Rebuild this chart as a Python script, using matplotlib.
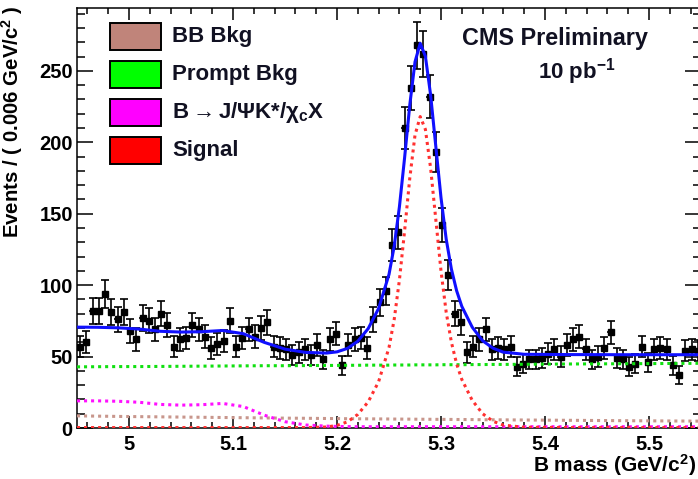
import numpy as np
import matplotlib
matplotlib.use('Agg')
import matplotlib.pyplot as plt
from matplotlib.patches import Rectangle
from matplotlib.ticker import MultipleLocator, FuncFormatter

plt.rcParams['font.family'] = ['Liberation Sans', 'DejaVu Sans']
plt.rcParams['font.weight'] = 'bold'
plt.rcParams['mathtext.fontset'] = 'custom'
plt.rcParams['mathtext.rm'] = 'Liberation Sans:bold'
plt.rcParams['mathtext.bf'] = 'Liberation Sans:bold'
plt.rcParams['mathtext.it'] = 'Liberation Sans:bold:italic'

# ---------------- data ----------------
x_min, x_max, n_bins = 4.95, 5.55, 100

counts = [57, 60, 82, 82, 94, 81, 76, 81, 68, 62,
          77, 75, 69, 80, 72, 57, 62, 63, 72, 69,
          64, 56, 59, 61, 75, 57, 63, 69, 64, 70,
          74, 57, 56, 55, 51, 53, 55, 51, 58, 48,
          62, 66, 44, 58, 62, 63, 56, 76, 88, 96,
          128, 137, 210, 238, 268, 262, 232, 193, 142, 107,
          80, 74, 53, 57, 62, 69, 55, 56, 55, 57,
          43, 45, 48, 48, 49, 52, 55, 50, 58, 62,
          64, 55, 48, 50, 56, 67, 49, 48, 43, 45,
          57, 46, 55, 56, 55, 44, 37, 54, 55, 54]

fit_x = [4.95, 4.97, 4.99, 5.01, 5.03, 5.05, 5.07, 5.09, 5.11, 5.13,
         5.15, 5.17, 5.19, 5.20, 5.21, 5.22, 5.23, 5.24, 5.25, 5.255,
         5.26, 5.265, 5.27, 5.275, 5.28, 5.285, 5.29, 5.295, 5.30, 5.305,
         5.31, 5.315, 5.32, 5.33, 5.34, 5.35, 5.36, 5.38, 5.42, 5.48, 5.55]

prompt_bkg = [42.8, 42.9, 43.0, 43.0, 43.1, 43.2, 43.3, 43.4, 43.5, 43.6,
              43.6, 43.7, 43.8, 43.8, 43.9, 43.9, 44.0, 44.0, 44.0, 44.1,
              44.1, 44.1, 44.1, 44.2, 44.2, 44.2, 44.2, 44.2, 44.3, 44.3,
              44.3, 44.3, 44.3, 44.4, 44.4, 44.5, 44.5, 44.6, 44.8, 45.0, 45.3]

bb_bkg = [8.5, 8.3, 8.1, 7.95, 7.8, 7.65, 7.5, 7.35, 7.2, 7.05,
          6.9, 6.8, 6.65, 6.6, 6.5, 6.45, 6.4, 6.35, 6.3, 6.25,
          6.25, 6.2, 6.2, 6.15, 6.15, 6.1, 6.1, 6.05, 6.05, 6.0,
          6.0, 5.95, 5.95, 5.9, 5.8, 5.75, 5.7, 5.6, 5.4, 5.1, 4.8]

b_jpsi_x = [19.0, 19.0, 18.7, 18.0, 16.5, 16.0, 16.3, 17.2, 15.0, 9.0,
            4.4, 2.1, 1.3, 1.1, 1.0, 0.9, 0.9, 0.9, 0.9, 0.9,
            0.9, 0.9, 0.9, 0.9, 0.9, 0.9, 0.9, 0.9, 0.9, 0.9,
            0.9, 0.9, 0.9, 0.9, 0.9, 0.9, 0.9, 0.9, 0.9, 0.9, 0.9]

signal = [0.3, 0.3, 0.3, 0.3, 0.3, 0.3, 0.3, 0.3, 0.3, 0.3,
          0.3, 0.3, 0.7, 1.8, 4.3, 9.5, 18.3, 32.4, 56.3, 76.0,
          103.5, 138.0, 175.0, 205.0, 218.0, 209.0, 182.0, 146.0, 110.0, 81.0,
          60.0, 45.0, 34.0, 19.4, 10.0, 4.7, 2.0, 0.5, 0.3, 0.3, 0.3]

legend_labels = ['BB Bkg', 'Prompt Bkg',
                 'B$\\rightarrow$J/ΨK*/χ$_{\\mathregular{c}}$X', 'Signal']
legend_colors = ['#c0847a', '#00ff00', '#ff00ff', '#ff0000']

# ---------------- figure ----------------
W, H = 698, 479
fig = plt.figure(figsize=(W / 100, H / 100), dpi=100)
ax = fig.add_axes([77 / W, 1 - 428 / H, 624 / W, 420 / H])

def fx(px):
    return px / W

def fy(py):
    return 1 - py / H

edges = np.linspace(x_min, x_max, n_bins + 1)
centers = 0.5 * (edges[:-1] + edges[1:])
cnt = np.array(counts, dtype=float)
half_w = (x_max - x_min) / n_bins / 2

ax.errorbar(centers, cnt, xerr=half_w, fmt='none', ecolor='black',
            elinewidth=1.2, capsize=0, zorder=3)
ax.errorbar(centers, cnt, yerr=np.sqrt(cnt), fmt='s', color='black',
            ms=4.0, elinewidth=1.2, capsize=2.6, capthick=1.2, zorder=3)

fx_arr = np.array(fit_x)
pr = np.array(prompt_bkg)
bb = np.array(bb_bkg)
bj = np.array(b_jpsi_x)
sg = np.array(signal)
total = pr + bb + bj + sg

dot = (0, (1.0, 1.3))
ax.plot(fx_arr, pr, color='#10e010', lw=2.2, ls=dot, zorder=4)
ax.plot(fx_arr, bb, color='#c8968c', lw=2.2, ls=dot, zorder=4)
ax.plot(fx_arr, bj, color='#ff10ff', lw=2.2, ls=dot, zorder=4)
ax.plot(fx_arr, sg, color='#ff3030', lw=2.2, ls=dot, zorder=4)
ax.plot(fx_arr, total, color='#1010ff', lw=2.2, zorder=5)

ax.set_xlim(x_min, x_max)
ax.set_ylim(0, 294)
ax.xaxis.set_major_locator(MultipleLocator(0.1))
ax.xaxis.set_minor_locator(MultipleLocator(0.02))
ax.yaxis.set_major_locator(MultipleLocator(50))
ax.yaxis.set_minor_locator(MultipleLocator(10))
ax.xaxis.set_major_formatter(FuncFormatter(lambda v, _: f'{v:g}'))
ax.tick_params(which='both', direction='in', top=True, right=True,
               labelsize=14.5, width=1.1)
ax.tick_params(axis='x', which='major', length=8.6, pad=5)
ax.tick_params(axis='x', which='minor', length=4.3)
ax.tick_params(axis='y', which='major', length=11.5, pad=3)
ax.tick_params(axis='y', which='minor', length=5.8)
for s in ax.spines.values():
    s.set_linewidth(1.1)
for lab in ax.get_xticklabels() + ax.get_yticklabels():
    lab.set_fontweight('bold')

ax.set_ylabel('Events / ( 0.006 GeV/c$^{2}$ )', loc='top', fontsize=14.7,
              fontweight='bold')
ax.yaxis.set_label_coords(-0.083, 1.007)
fig.text(fx(533), fy(465), 'B mass (GeV/c$^{2}$)', ha='left', va='center',
         fontsize=15, fontweight='bold')

# legend
for i, (lab, col) in enumerate(zip(legend_labels, legend_colors)):
    top = 23 + 38 * i
    r = Rectangle((fx(110), fy(top + 27)), 51 / W, 27 / H,
                  transform=fig.transFigure, facecolor=col,
                  edgecolor='black', lw=1.4)
    fig.add_artist(r)
    fig.text(fx(172), fy(top + 13.5), lab, ha='left', va='center',
             fontsize=16, fontweight='bold', color='#111122')

fig.text(fx(555), fy(38), 'CMS Preliminary', ha='center', va='center',
         fontsize=16.8, fontweight='bold', color='#111122')
fig.text(fx(577), fy(72), '10 pb$^{-1}$', ha='center', va='center',
         fontsize=16, fontweight='bold', color='#111122')

fig.savefig('out.png', dpi=100)
